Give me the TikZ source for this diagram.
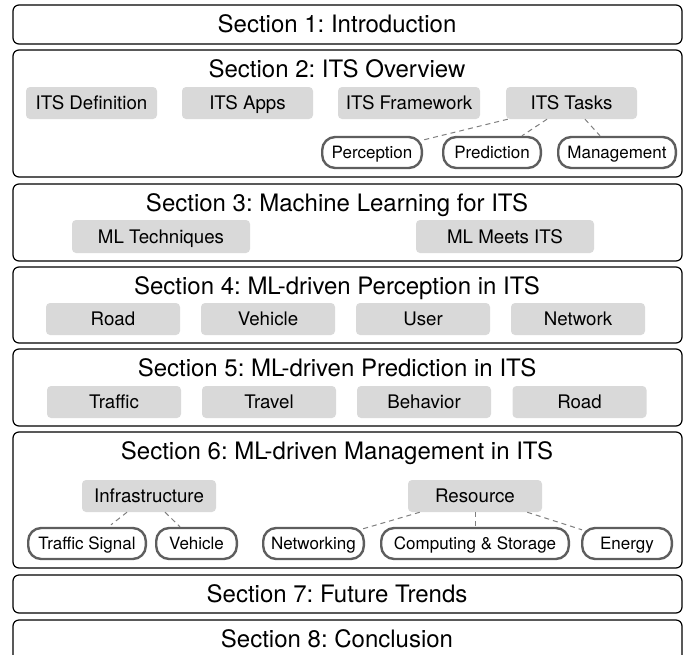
\documentclass[tikz,border=0pt]{standalone}
\usepackage{fontspec}
\setmainfont{TeX Gyre Heros}
\usetikzlibrary{calc}
\definecolor{boxgray}{HTML}{D9D9D9}
\definecolor{pillgray}{HTML}{5E5E5E}
\definecolor{dashgray}{HTML}{7F7F7F}
\frenchspacing
\begin{document}
\begin{tikzpicture}[x=1pt,y=-1pt,
 secbox/.style={draw=black, line width=1.2pt, rounded corners=6pt},
 sectitle/.style={anchor=base, font=\fontsize{24}{28}\selectfont, inner sep=0pt},
 graybox/.style={fill=boxgray, rounded corners=4pt, minimum height=32pt, inner sep=0pt,
   font=\fontsize{18.7}{22}\selectfont, text height=13.4pt, text depth=0pt},
 pill/.style={draw=pillgray, line width=2.4pt, rounded corners=13pt, minimum height=31pt,
   inner sep=0pt, font=\fontsize{17}{20}\selectfont, text height=12.2pt, text depth=0pt},
 link/.style={draw=dashgray, line width=1pt, dash pattern=on 5pt off 4pt}]
\useasboundingbox (0,0) rectangle (696,654);
\clip (0,0) rectangle (696,654);

% section frames
\draw[secbox] (13,5) rectangle (682,44);
\draw[secbox] (13,50) rectangle (682,177);
\draw[secbox] (13,184) rectangle (682,261);
\draw[secbox] (13,267) rectangle (682,343);
\draw[secbox] (13,349) rectangle (682,426);
\draw[secbox] (13,432) rectangle (682,568);
\draw[secbox] (13,575) rectangle (682,613);
\draw[secbox] (13,620) rectangle (682,664);

% titles
\node[sectitle] (t1) at (337,32) {Section 1: Introduction};
\node[sectitle] (t2) at (337,77) {Section 2: ITS Overview};
\node[sectitle] (t3) at (337,211) {Section 3: Machine Learning for ITS};
\node[sectitle] (t4) at (337,294) {Section 4: ML-driven Perception in ITS};
\node[sectitle] (t5) at (337,376) {Section 5: ML-driven Prediction in ITS};
\node[sectitle] (t6) at (337,459) {Section 6: ML-driven Management in ITS};
\node[sectitle] (t7) at (337,602) {Section 7: Future Trends};
\node[sectitle] (t8) at (337,647) {Section 8: Conclusion};

% section 2
\node[graybox, minimum width=131pt] (def) at (91.5,103) {ITS Definition};
\node[graybox, minimum width=131pt] (apps) at (247.5,103) {ITS Apps};
\node[graybox, minimum width=142pt] (frame) at (409,103) {ITS Framework};
\node[graybox, minimum width=131pt] (tasks) at (571.5,103) {ITS Tasks};
\node[pill, minimum width=99.6pt] (perc) at (372,152.5) {Perception};
\node[pill, minimum width=97.6pt] (pred) at (492,152.5) {Prediction};
\node[pill, minimum width=117.6pt] (mgmt) at (617,152.5) {Management};
\draw[link] ($(tasks.south west)+(2,0)$) -- ($(perc.north east)+(1,4)$);
\draw[link] ($(tasks.south)+(-24.5,0)$) -- ($(pred.north)+(30,0)$);
\draw[link] ($(tasks.south)+(13.5,0)$) -- ($(mgmt.north)+(-17,0)$);

% section 3
\node[graybox, minimum width=178pt, minimum height=33pt] (mlt) at (161,236.5) {ML Techniques};
\node[graybox, minimum width=178pt, minimum height=33pt] (mlm) at (505,236.5) {ML Meets ITS};

% section 4
\node[graybox, minimum width=134pt] (proad) at (113,319) {Road};
\node[graybox, minimum width=134pt] (pveh) at (268,319) {Vehicle};
\node[graybox, minimum width=134pt] (puser) at (423,319) {User};
\node[graybox, minimum width=134pt] (pnet) at (578,319) {Network};

% section 5
\node[graybox, minimum width=134pt] (ptraffic) at (114,402) {Traffic};
\node[graybox, minimum width=134pt] (ptravel) at (269,402) {Travel};
\node[graybox, minimum width=134pt] (pbeh) at (424,402) {Behavior};
\node[graybox, minimum width=134pt] (prroad) at (579.5,402) {Road};

% section 6
\node[graybox, minimum width=134pt] (infra) at (149,496) {Infrastructure};
\node[graybox, minimum width=134pt] (res) at (475,496) {Resource};
\node[pill, minimum width=117.6pt] (ts) at (87,543.5) {Traffic Signal};
\node[pill, minimum width=80.6pt] (veh) at (196.5,543.5) {Vehicle};
\node[pill, minimum width=100.6pt] (net) at (313.5,543.5) {Networking};
\node[pill, minimum width=187.6pt] (cs) at (475,543.5) {Computing \& Storage};
\node[pill, minimum width=89.6pt] (en) at (627,543.5) {Energy};
\draw[link] ($(infra.south)+(-22,0)$) -- ($(ts.north)+(24,-2)$);
\draw[link] ($(infra.south)+(16,0)$) -- ($(veh.north)+(-16.5,0)$);
\draw[link] ($(res.south west)+(12,0)$) -- ($(net.north east)+(-2,2)$);
\draw[link] (res.south) -- (cs.north);
\draw[link] ($(res.south east)+(-15,0)$) -- ($(en.north west)+(1,3)$);
\end{tikzpicture}
\end{document}
